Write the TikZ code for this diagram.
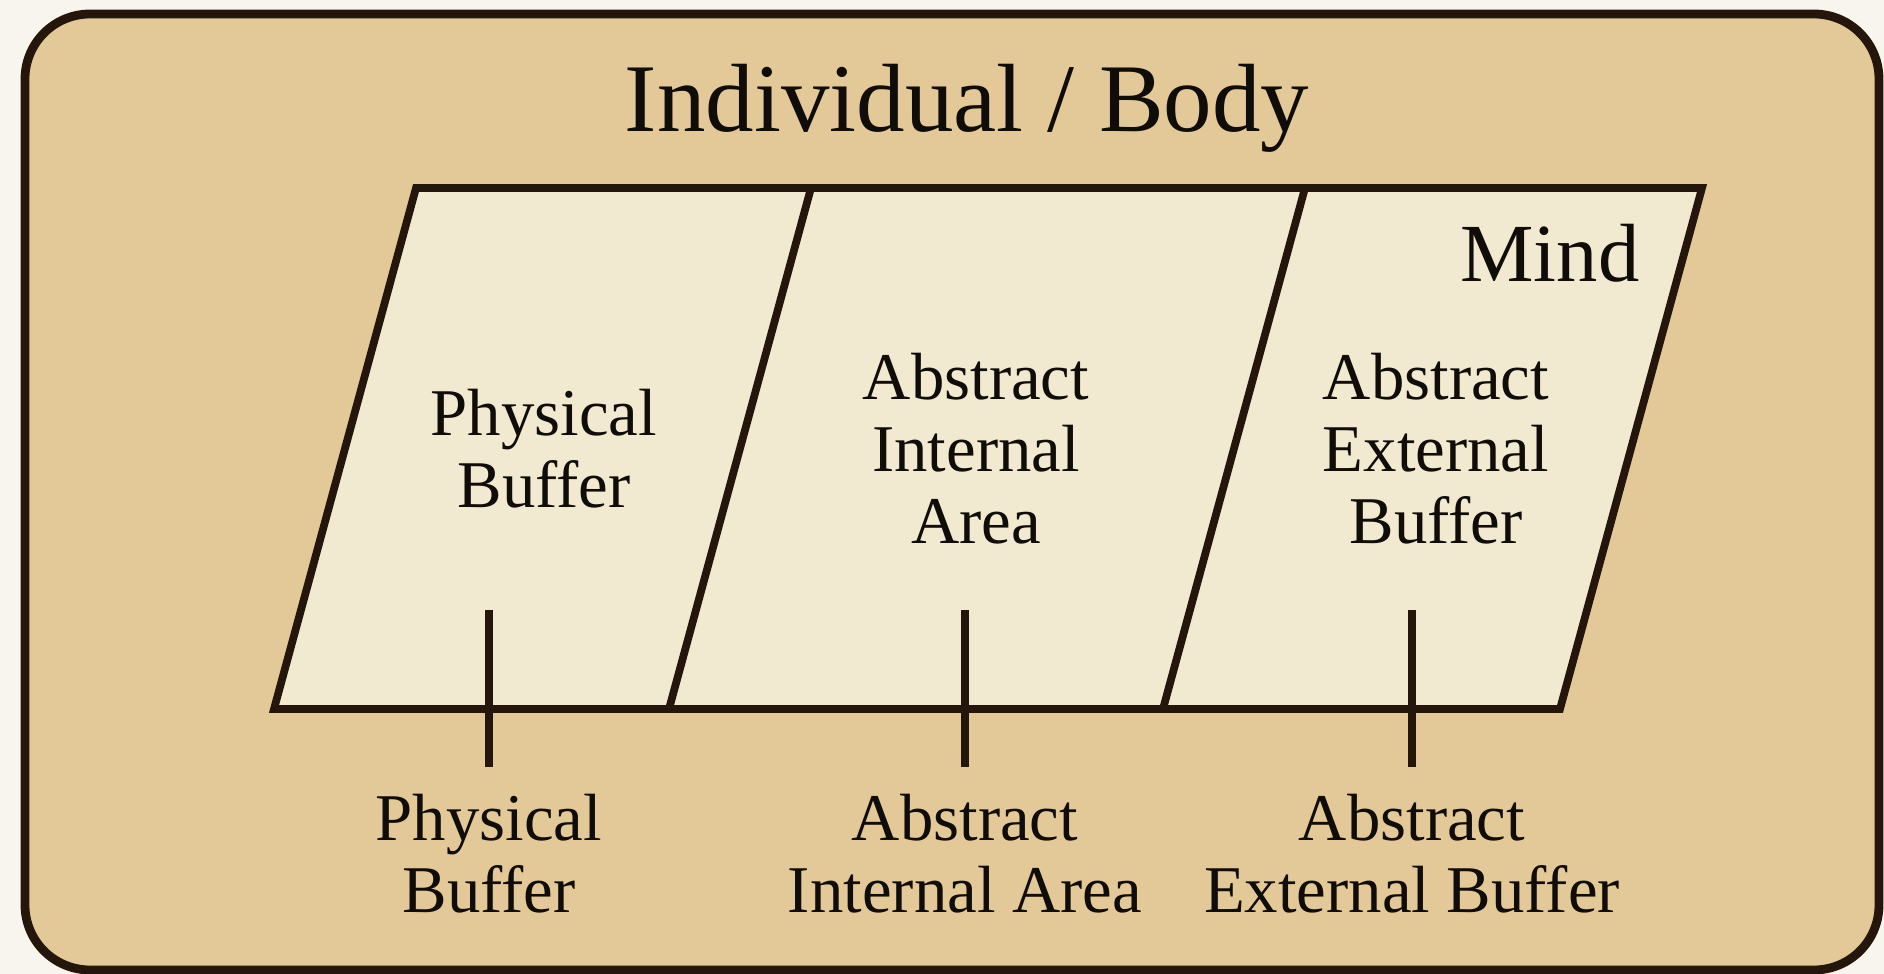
\documentclass[tikz,border=0pt]{standalone}
\usepackage{fontspec}
\setmainfont{Liberation Serif}
\definecolor{bgc}{RGB}{248,245,238}
\definecolor{outerfill}{RGB}{227,201,151}
\definecolor{innerfill}{RGB}{241,233,208}
\definecolor{edge}{RGB}{36,22,10}
\definecolor{ink}{RGB}{16,12,8}
\begin{document}
\begin{tikzpicture}[x=1cm,y=1cm,
  outerbox/.style={fill=outerfill,draw=edge,line width=2.5pt,rounded corners=0.65cm},
  panel/.style={fill=innerfill,draw=edge,line width=2.2pt,line join=miter},
  divider/.style={draw=edge,line width=2.2pt},
  tickline/.style={draw=edge,line width=2pt},
  lbl/.style={text=ink,align=center,font=\fontsize{19}{20.5}\selectfont,inner sep=0pt},
  titlelbl/.style={text=ink,font=\fontsize{27.6}{30}\selectfont,inner sep=0pt},
  mindlbl/.style={text=ink,font=\fontsize{23.5}{26}\selectfont,inner sep=0pt}]
\useasboundingbox (0,0) rectangle (18.84,-9.74);
\fill[bgc] (0,0) rectangle (18.84,-9.74);
\draw[outerbox] (0.25,-0.14) rectangle (18.79,-9.70);
% parallelogram panels
\coordinate (bl) at (2.74,-7.09);
\coordinate (d1b) at (6.69,-7.09);
\coordinate (d2b) at (11.63,-7.09);
\coordinate (br) at (15.60,-7.09);
\coordinate (tl) at (4.16,-1.88);
\coordinate (d1t) at (8.11,-1.88);
\coordinate (d2t) at (13.05,-1.88);
\coordinate (tr) at (17.02,-1.88);
\draw[panel] (bl) -- (tl) -- (tr) -- (br) -- cycle;
\draw[divider] (d1b) -- (d1t);
\draw[divider] (d2b) -- (d2t);
% titles
\node[titlelbl,anchor=base] (title) at (9.67,-1.32) {Individual / Body};
\node[mindlbl,anchor=base east] (mind) at (16.40,-2.82) {Mind};
% inner labels
\node[lbl] (pb) at (5.44,-4.49) {Physical\\Buffer};
\node[lbl] (aia) at (9.76,-4.49) {Abstract\\Internal\\Area};
\node[lbl] (aeb) at (14.36,-4.49) {Abstract\\External\\Buffer};
% ticks
\coordinate (t1a) at (4.89,-6.10);
\coordinate (t1b) at (4.89,-7.67);
\coordinate (t2a) at (9.65,-6.10);
\coordinate (t2b) at (9.65,-7.67);
\coordinate (t3a) at (14.12,-6.10);
\coordinate (t3b) at (14.12,-7.67);
\draw[tickline] (t1a) -- (t1b);
\draw[tickline] (t2a) -- (t2b);
\draw[tickline] (t3a) -- (t3b);
% bottom labels
\node[lbl] (pbl) at (4.89,-8.54) {Physical\\Buffer};
\node[lbl] (aial) at (9.65,-8.54) {Abstract\\Internal Area};
\node[lbl] (aebl) at (14.12,-8.54) {Abstract\\External Buffer};
\end{tikzpicture}
\end{document}
